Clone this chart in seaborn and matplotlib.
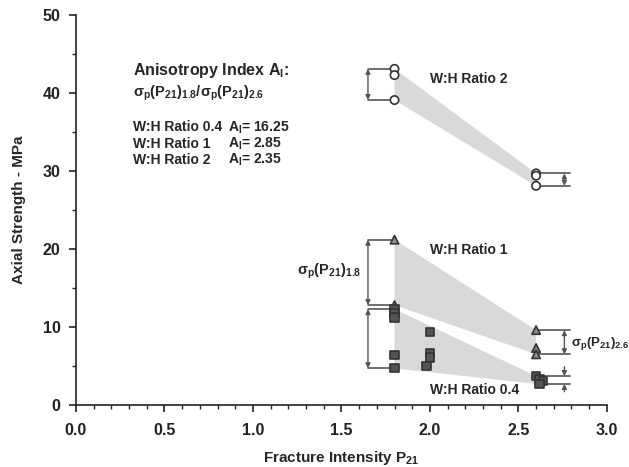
import numpy as np
import pandas as pd
import matplotlib
matplotlib.use('Agg')
import matplotlib.pyplot as plt
import seaborn as sns
from matplotlib.ticker import MultipleLocator, FormatStrFormatter

sns.set_theme(style='ticks')
plt.rcParams['font.family'] = ['Liberation Sans', 'DejaVu Sans']
plt.rcParams['font.weight'] = 'bold'
plt.rcParams['mathtext.fontset'] = 'custom'
plt.rcParams['mathtext.rm'] = 'Liberation Sans:bold'
plt.rcParams['mathtext.bf'] = 'Liberation Sans:bold'
plt.rcParams['mathtext.it'] = 'Liberation Sans:bold'
plt.rcParams['mathtext.sf'] = 'Liberation Sans:bold'
plt.rcParams['mathtext.default'] = 'bf'

# ---------------- data ----------------
ratio2_x = [1.8, 1.8, 1.8, 2.6, 2.6, 2.6]
ratio2_y = [43.1, 42.3, 39.1, 29.7, 29.4, 28.1]
ratio1_x = [1.8, 1.8, 2.6, 2.6, 2.6]
ratio1_y = [21.2, 12.8, 9.6, 7.3, 6.5]
ratio04_x = [1.8, 1.8, 1.8, 1.8, 1.8, 2.0, 2.0, 2.0, 1.98, 2.6, 2.62, 2.64, 2.62]
ratio04_y = [12.3, 11.8, 11.2, 6.4, 4.7, 9.4, 6.7, 6.1, 5.0, 3.7, 3.3, 3.1, 2.7]
p21_levels = [1.8, 2.6]
ratio_names = ['W:H Ratio 2', 'W:H Ratio 1', 'W:H Ratio 0.4']
anis_index = ['16.25', '2.85', '2.35']   # for 0.4, 1, 2
x_ticks = [0.0, 0.5, 1.0, 1.5, 2.0, 2.5, 3.0]
y_ticks = [0, 10, 20, 30, 40, 50]

df = pd.concat([
    pd.DataFrame({'P21': ratio2_x, 'S': ratio2_y, 'ratio': '2'}),
    pd.DataFrame({'P21': ratio1_x, 'S': ratio1_y, 'ratio': '1'}),
    pd.DataFrame({'P21': ratio04_x, 'S': ratio04_y, 'ratio': '0.4'}),
], ignore_index=True)

fig = plt.figure(figsize=(6.29, 4.67), dpi=100)
ax = fig.add_axes([0.1208, 0.1328, 0.844, 0.835])

shade = '#d9d9d9'
line_c = '#555555'

# shaded envelopes between the extreme values at each P21 level
env = {}
for r in ['2', '1', '0.4']:
    sub = df[df.ratio == r]
    lo = sub[np.abs(sub.P21 - p21_levels[0]) < 0.1].S
    hi = sub[np.abs(sub.P21 - p21_levels[1]) < 0.1].S
    env[r] = (lo.max(), lo.min(), hi.max(), hi.min())
    ax.fill([p21_levels[0], p21_levels[1], p21_levels[1], p21_levels[0]],
            [lo.max(), hi.max(), hi.min(), lo.min()],
            color=shade, lw=0, zorder=1)

sns.scatterplot(data=df, x='P21', y='S', hue='ratio', style='ratio',
                palette={'2': 'white', '1': '#8c8c8c', '0.4': '#555555'},
                markers={'2': 'o', '1': '^', '0.4': 's'},
                edgecolor='#333333', linewidth=1.2, s=36, legend=False,
                ax=ax, zorder=5)

# brackets
xl, xr, xa = 1.65, 2.79, 2.76
def hline(x0, x1, y):
    ax.plot([x0, x1], [y, y], color=line_c, lw=1.2, zorder=2, clip_on=False)
def darrow(x, y0, y1):
    ax.annotate('', xy=(x, y1), xytext=(x, y0),
                arrowprops=dict(arrowstyle='<|-|>', color=line_c, lw=1.0,
                                mutation_scale=7, shrinkA=0, shrinkB=0),
                zorder=2, annotation_clip=False)
def arrow(x, y0, y1):
    ax.annotate('', xy=(x, y1), xytext=(x, y0),
                arrowprops=dict(arrowstyle='-|>', color=line_c, lw=1.0,
                                mutation_scale=7, shrinkA=0, shrinkB=0),
                zorder=2, annotation_clip=False)

for r in ['2', '1', '0.4']:
    lmax, lmin, rmax, rmin = env[r]
    hline(xl, p21_levels[0], lmax)
    hline(xl, p21_levels[0], lmin)
    darrow(xl, lmin, lmax)
    hline(p21_levels[1], xr, rmax)
    hline(p21_levels[1], xr, rmin)
    if r == '0.4':
        arrow(xa, rmax + 1.2, rmax)
        arrow(xa, rmin - 1.0, rmin)
    else:
        darrow(xa, rmin, rmax)

# text labels
fs = 10
ax.text(2.0, 41.8, ratio_names[0], fontsize=fs, fontweight='bold', va='center')
ax.text(2.0, 19.9, ratio_names[1], fontsize=fs, fontweight='bold', va='center')
ax.text(2.0, 1.9, ratio_names[2], fontsize=fs, fontweight='bold', va='center')

ax.text(0.32, 42.9, r'Anisotropy Index A$_{I}$:', fontsize=11.5, fontweight='bold', va='center')
ax.text(0.32, 40.0, r'$\sigma_p$(P$_{21}$)$_{1.8}$/$\sigma_p$(P$_{21}$)$_{2.6}$',
        fontsize=10.5, fontweight='bold', va='center')
rows_y = [35.6, 33.5, 31.4]
for nm, ai, yy in zip(ratio_names[::-1], anis_index, rows_y):
    ax.text(0.32, yy, nm, fontsize=fs, fontweight='bold', va='center')
    ax.text(0.86, yy, r'A$_{I}$= ' + ai, fontsize=fs, fontweight='bold', va='center')

ax.text(1.615, 17.1, r'$\sigma_p$(P$_{21}$)$_{1.8}$', fontsize=10.5, ha='right', va='center')
ax.text(2.795, 7.9, r'$\sigma_p$(P$_{21}$)$_{2.6}$', fontsize=9.5, ha='left', va='center',
        clip_on=False)

# axes
ax.set_xlim(0, 3.0)
ax.set_ylim(0, 50)
ax.set_xticks(x_ticks)
ax.set_yticks(y_ticks)
ax.xaxis.set_major_formatter(FormatStrFormatter('%.1f'))
ax.xaxis.set_minor_locator(MultipleLocator(0.1))
ax.yaxis.set_minor_locator(MultipleLocator(5))
ax.tick_params(axis='both', which='major', direction='out', length=5, width=1.2,
               colors='#222222', labelsize=11.5)
ax.tick_params(axis='x', which='major', pad=8)
ax.tick_params(axis='y', which='major', pad=6)
ax.tick_params(axis='both', which='minor', direction='out', length=3, width=1.0,
               colors='#222222')
for lab in ax.get_xticklabels() + ax.get_yticklabels():
    lab.set_fontweight('bold')
for sp in ['top', 'right']:
    ax.spines[sp].set_visible(False)
for sp in ['left', 'bottom']:
    ax.spines[sp].set_linewidth(1.2)
    ax.spines[sp].set_color('#222222')
ax.set_xlabel(r'Fracture Intensity P$_{21}$', fontsize=11, fontweight='bold', labelpad=8)
ax.set_ylabel('Axial Strength - MPa', fontsize=11, fontweight='bold', labelpad=12)

fig.savefig('out.png', dpi=100)
